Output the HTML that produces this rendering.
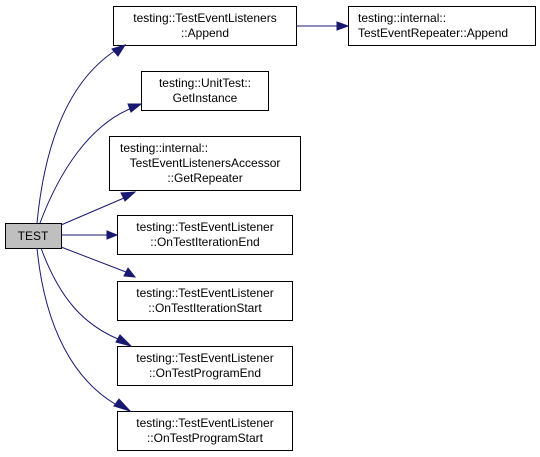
<!DOCTYPE html>
<html><head><style>body{margin:0;background:#fff}svg{display:block}</style></head><body>
<svg width="540" height="457" viewBox="0 0 540 457" xmlns="http://www.w3.org/2000/svg" font-family="Liberation Sans, sans-serif" font-size="12">
<g fill="#fff" stroke="#000" stroke-width="1">
<rect x="5.5" y="223.5" width="56" height="25" fill="#bfbfbf"/>
<rect x="113.5" y="6.5" width="183" height="39"/>
<rect x="141.5" y="71.5" width="127" height="39"/>
<rect x="109.5" y="136.5" width="191" height="54"/>
<rect x="117.5" y="215.5" width="175" height="39"/>
<rect x="117.5" y="281.5" width="175" height="39"/>
<rect x="117.5" y="346.5" width="175" height="39"/>
<rect x="117.5" y="411.5" width="175" height="39"/>
<rect x="348.5" y="6.5" width="187" height="39"/>
</g>
<g fill="none" stroke="#191970" stroke-width="1">
<path d="M37,223 C45,140 70,80 116,50"/>
<path d="M40,223 C60,170 90,125 132,108"/>
<path d="M61,225 L124,198"/>
<path d="M61,235 L107,235"/>
<path d="M61,247 L126,272"/>
<path d="M41,248 C60,300 85,325 118,339"/>
<path d="M37,248 C45,330 75,380 115,404"/>
<path d="M296,26 L337,26"/>
</g>
<g fill="#191970" stroke="#191970">
<polygon points="125,45 112,49 118,56"/>
<polygon points="141,104 128,104 131,112"/>
<polygon points="135,192 121,193 125,201"/>
<polygon points="117,235 107,231 107,239"/>
<polygon points="135,277 128,268 124,276"/>
<polygon points="131,346 120,335 116,342"/>
<polygon points="130,411 119,399 114,406"/>
<polygon points="348,26 337,22 337,30"/>
</g>
<g fill="#000" text-anchor="middle">
<text x="33" y="240">TEST</text>
<text x="205" y="22">testing::TestEventListeners</text>
<text x="205" y="37">::Append</text>
<text x="205" y="87">testing::UnitTest::</text>
<text x="205" y="102">GetInstance</text>
<text x="120" y="152" text-anchor="start">testing::internal::</text>
<text x="205" y="167">TestEventListenersAccessor</text>
<text x="205" y="182">::GetRepeater</text>
<text x="205" y="231">testing::TestEventListener</text>
<text x="205" y="246">::OnTestIterationEnd</text>
<text x="205" y="297">testing::TestEventListener</text>
<text x="205" y="312">::OnTestIterationStart</text>
<text x="205" y="362">testing::TestEventListener</text>
<text x="205" y="377">::OnTestProgramEnd</text>
<text x="205" y="427">testing::TestEventListener</text>
<text x="205" y="442">::OnTestProgramStart</text>
<text x="358" y="22" text-anchor="start">testing::internal::</text>
<text x="358" y="37" text-anchor="start">TestEventRepeater::Append</text>
</g>
</svg>
</body></html>
